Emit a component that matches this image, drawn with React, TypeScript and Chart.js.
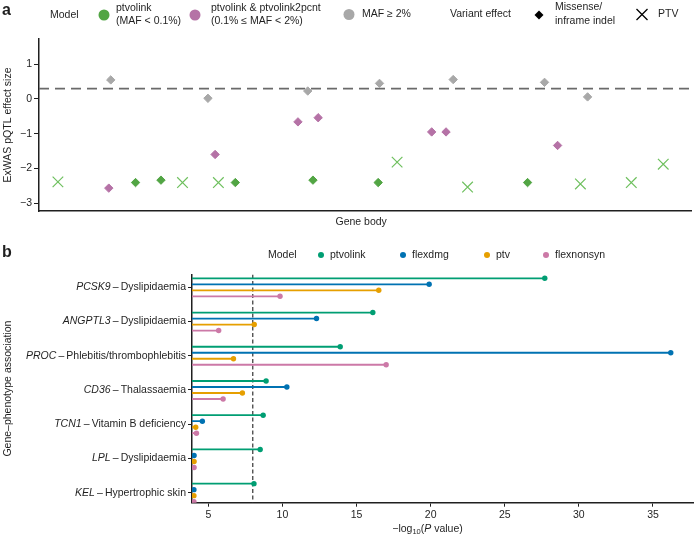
import React, { useEffect, useRef } from 'react';
import { Chart, registerables } from 'chart.js';

Chart.register(...registerables);

const FONT = "'Liberation Sans', Arial, Helvetica, sans-serif";
const INK = '#1f1f1f';

// ---------------- Panel a data ----------------
const ptvolinkPtvPos = [2.9, 22.0, 27.5, 54.9, 65.7, 83.0, 90.8, 95.7];
const ptvolinkPtvEffect = [-2.39, -2.41, -2.41, -1.82, -2.54, -2.45, -2.41, -1.88];
const ptvolinkMisPos = [14.8, 18.7, 30.1, 42.0, 52.0, 74.9];
const ptvolinkMisEffect = [-2.41, -2.34, -2.41, -2.34, -2.41, -2.41];
const lowFreqMisPos = [10.7, 27.0, 39.7, 42.8, 60.2, 62.4, 79.5];
const lowFreqMisEffect = [-2.57, -1.6, -0.66, -0.54, -0.95, -0.95, -1.34];
const commonMisPos = [11.0, 25.9, 41.2, 52.2, 63.5, 77.5, 84.1];
const commonMisEffect = [0.55, 0.02, 0.23, 0.45, 0.56, 0.48, 0.06];
const effectLine = 0.3;
const aYTicks = [-3, -2, -1, 0, 1];

const C_GREEN = '#52a544';
const C_GREEN_X = '#6fc05f';
const C_PURPLE = '#b572a6';
const C_GRAY = '#a8a8a8';

// ---------------- Panel b data ----------------
const genes = ['PCSK9', 'ANGPTL3', 'PROC', 'CD36', 'TCN1', 'LPL', 'KEL'];
const phenotypes = [
  'Dyslipidaemia',
  'Dyslipidaemia',
  'Phlebitis/thrombophlebitis',
  'Thalassaemia',
  'Vitamin B deficiency',
  'Dyslipidaemia',
  'Hypertrophic skin',
];
const models = ['ptvolink', 'flexdmg', 'ptv', 'flexnonsyn'];
const modelColors = ['#009E73', '#0072B2', '#E69F00', '#CC79A7'];
const ptvolinkLogP = [27.7, 16.1, 13.9, 8.9, 8.7, 8.5, 8.08];
const flexdmgLogP = [19.9, 12.3, 36.2, 10.3, 4.6, 4.04, 4.03];
const ptvLogP = [16.5, 8.1, 6.7, 7.3, 4.15, 4.04, 4.03];
const flexnonsynLogP = [9.84, 5.7, 17.0, 6.0, 4.2, 4.04, 4.03];
const modelValues = [ptvolinkLogP, flexdmgLogP, ptvLogP, flexnonsynLogP];
const pThreshold = 8;
const bXTicks = [5, 10, 15, 20, 25, 30, 35];
const bXMin = 3.9;
const bXMax = 37.7;
const dodge = 0.1753;

type Seg = { t: string; font: string; dy?: number };

function drawSegs(ctx: CanvasRenderingContext2D, segs: Seg[], x: number, y: number, align: 'left' | 'right' | 'center') {
  let total = 0;
  for (const s of segs) {
    ctx.font = s.font;
    total += ctx.measureText(s.t).width;
  }
  let cx = align === 'left' ? x : align === 'right' ? x - total : x - total / 2;
  ctx.textAlign = 'left';
  ctx.textBaseline = 'middle';
  for (const s of segs) {
    ctx.font = s.font;
    ctx.fillText(s.t, cx, y + (s.dy || 0));
    cx += ctx.measureText(s.t).width;
  }
}

function circle(ctx: CanvasRenderingContext2D, x: number, y: number, r: number, c: string) {
  ctx.beginPath();
  ctx.arc(x, y, r, 0, Math.PI * 2);
  ctx.fillStyle = c;
  ctx.fill();
}

function diamond(ctx: CanvasRenderingContext2D, x: number, y: number, r: number, c: string) {
  ctx.beginPath();
  ctx.moveTo(x - r, y);
  ctx.lineTo(x, y - r);
  ctx.lineTo(x + r, y);
  ctx.lineTo(x, y + r);
  ctx.closePath();
  ctx.fillStyle = c;
  ctx.fill();
}

function cross(ctx: CanvasRenderingContext2D, x: number, y: number, h: number, c: string, lw: number) {
  ctx.beginPath();
  ctx.moveTo(x - h, y - h);
  ctx.lineTo(x + h, y + h);
  ctx.moveTo(x + h, y - h);
  ctx.lineTo(x - h, y + h);
  ctx.strokeStyle = c;
  ctx.lineWidth = lw;
  ctx.stroke();
}

const f = (size: number, style = '') => `${style} ${size}px ${FONT}`.trim();

const panelAText = {
  id: 'panelAText',
  afterDraw(chart: any) {
    const ctx: CanvasRenderingContext2D = chart.ctx;
    const area = chart.chartArea;
    ctx.save();
    ctx.fillStyle = INK;
    ctx.textBaseline = 'middle';
    ctx.textAlign = 'left';
    ctx.font = f(16, 'bold');
    ctx.fillText('a', 2, 11);
    ctx.fillStyle = INK;
    ctx.font = f(10.5);
    ctx.fillText('Model', 50, 15);
    circle(ctx, 104, 15, 5.5, C_GREEN);
    ctx.fillStyle = INK;
    ctx.font = f(10.5);
    ctx.fillText('ptvolink', 116, 8);
    ctx.fillText('(MAF < 0.1%)', 116, 21);
    circle(ctx, 195, 15, 5.5, C_PURPLE);
    ctx.fillStyle = INK;
    ctx.fillText('ptvolink & ptvolink2pcnt', 211, 8);
    ctx.fillText('(0.1% \u2264 MAF < 2%)', 211, 21);
    circle(ctx, 349, 14.5, 5.5, C_GRAY);
    ctx.fillStyle = INK;
    ctx.fillText('MAF \u2265 2%', 362, 14.5);
    ctx.fillText('Variant effect', 450, 14.5);
    diamond(ctx, 539, 15, 4.5, '#000');
    ctx.fillStyle = INK;
    ctx.fillText('Missense/', 555, 7.5);
    ctx.fillText('inframe indel', 555, 21.5);
    cross(ctx, 642, 14.5, 5.5, '#000', 1.3);
    ctx.fillStyle = INK;
    ctx.fillText('PTV', 658, 14.5);

    // axis titles
    ctx.font = f(10.5);
    ctx.textAlign = 'center';
    ctx.fillText('Gene body', (area.left + area.right) / 2 - 4, 222);
    ctx.translate(8, (area.top + area.bottom) / 2);
    ctx.rotate(-Math.PI / 2);
    ctx.fillText('ExWAS pQTL effect size', 0, 0);
    ctx.restore();
  },
};

const panelBText = {
  id: 'panelBText',
  afterDraw(chart: any) {
    const ctx: CanvasRenderingContext2D = chart.ctx;
    const area = chart.chartArea;
    const ys = chart.scales.y;
    ctx.save();
    ctx.fillStyle = INK;
    ctx.textBaseline = 'middle';
    ctx.textAlign = 'left';
    ctx.font = f(16, 'bold');
    ctx.fillText('b', 2, 13);
    ctx.font = f(10.5);
    ctx.fillText('Model', 268, 15);
    const lx = [321, 403, 487, 546];
    models.forEach((m, i) => {
      circle(ctx, lx[i], 15, 3, modelColors[i]);
      ctx.fillStyle = INK;
      ctx.font = f(10.5);
      ctx.fillText(m, lx[i] + 9, 15);
    });

    // category labels
    genes.forEach((g, i) => {
      const y = ys.getPixelForValue(i);
      ctx.fillStyle = INK;
      drawSegs(
        ctx,
        [
          { t: g, font: f(10.5, 'italic') },
          { t: '\u2009\u2013\u2009', font: f(10.5) },
          { t: phenotypes[i], font: f(10.5) },
        ],
        area.left - 6,
        y,
        'right'
      );
    });

    // x title
    ctx.fillStyle = INK;
    drawSegs(
      ctx,
      [
        { t: '\u2212log', font: f(10.5) },
        { t: '10', font: f(7.5), dy: 3 },
        { t: '(', font: f(10.5) },
        { t: 'P', font: f(10.5, 'italic') },
        { t: ' value)', font: f(10.5) },
      ],
      (area.left + area.right) / 2 - 15,
      289,
      'center'
    );

    // y title
    ctx.font = f(10.5);
    ctx.textAlign = 'center';
    ctx.translate(8, (area.top + area.bottom) / 2);
    ctx.rotate(-Math.PI / 2);
    ctx.fillText('Gene\u2013phenotype association', 0, 0);
    ctx.restore();
  },
};

const toXY = (xs: number[], ys: number[]) => xs.map((x, i) => ({ x, y: ys[i] }));
const minus = (v: number) => String(v).replace('-', '\u2212');

function configA(): any {
  return {
    type: 'scatter',
    data: {
      datasets: [
        {
          label: 'ptvolink PTV',
          data: toXY(ptvolinkPtvPos, ptvolinkPtvEffect),
          pointStyle: 'crossRot',
          pointRadius: 7.5,
          borderColor: C_GREEN_X,
          backgroundColor: C_GREEN_X,
          pointBorderWidth: 1.2,
        },
        {
          label: 'ptvolink missense',
          data: toXY(ptvolinkMisPos, ptvolinkMisEffect),
          pointStyle: 'rectRot',
          pointRadius: 4.2,
          backgroundColor: C_GREEN,
          borderColor: C_GREEN,
          pointBorderWidth: 1,
        },
        {
          label: 'ptvolink2pcnt missense',
          data: toXY(lowFreqMisPos, lowFreqMisEffect),
          pointStyle: 'rectRot',
          pointRadius: 4.2,
          backgroundColor: C_PURPLE,
          borderColor: C_PURPLE,
          pointBorderWidth: 1,
        },
        {
          label: 'common missense',
          data: toXY(commonMisPos, commonMisEffect),
          pointStyle: 'rectRot',
          pointRadius: 4.2,
          backgroundColor: C_GRAY,
          borderColor: C_GRAY,
          pointBorderWidth: 1,
        },
        {
          label: 'threshold',
          data: [
            { x: 0, y: effectLine },
            { x: 100, y: effectLine },
          ],
          showLine: true,
          pointRadius: 0,
          borderColor: '#6a6a6a',
          borderWidth: 1.8,
          borderDash: [10, 6],
        },
      ],
    },
    options: {
      animation: false,
      responsive: true,
      maintainAspectRatio: false,
      layout: { padding: { top: 39, right: 7, left: 0, bottom: 0 } },
      plugins: { legend: { display: false }, tooltip: { enabled: false } },
      scales: {
        x: {
          type: 'linear',
          min: 0,
          max: 100,
          ticks: { display: false },
          grid: { display: false },
          border: { display: true, color: INK, width: 1.5 },
          afterFit: (s: any) => {
            s.height = 29;
          },
        },
        y: {
          type: 'linear',
          min: -3.23,
          max: 1.73,
          afterBuildTicks: (s: any) => {
            s.ticks = aYTicks.map((v) => ({ value: v }));
          },
          ticks: {
            color: INK,
            font: { family: FONT, size: 10.5 },
            padding: 2,
            callback: (v: any) => minus(v),
          },
          grid: { display: true, drawOnChartArea: false, drawTicks: true, tickLength: 5, color: INK, lineWidth: 1 },
          border: { display: true, color: INK, width: 1.5 },
          afterFit: (s: any) => {
            s.width = 39;
          },
        },
      },
    },
    plugins: [panelAText],
  };
}

function configB(): any {
  const datasets: any[] = [];
  models.forEach((m, s) => {
    genes.forEach((g, gi) => {
      const y = gi + (s - 1.5) * dodge;
      datasets.push({
        label: `${g} ${m}`,
        data: [
          { x: bXMin, y },
          { x: modelValues[s][gi], y },
        ],
        showLine: true,
        borderColor: modelColors[s],
        backgroundColor: modelColors[s],
        borderWidth: 1.8,
        pointRadius: [0, 2.7],
        pointBorderWidth: 0,
      });
    });
  });
  datasets.push({
    label: 'threshold',
    data: [
      { x: pThreshold, y: -0.374 },
      { x: pThreshold, y: 6.293 },
    ],
    showLine: true,
    pointRadius: 0,
    borderColor: '#333',
    borderWidth: 1.2,
    borderDash: [4, 2.5],
  });
  return {
    type: 'scatter',
    data: { datasets },
    options: {
      animation: false,
      responsive: true,
      maintainAspectRatio: false,
      layout: { padding: { top: 34.5, right: 7, left: 0, bottom: 0 } },
      plugins: { legend: { display: false }, tooltip: { enabled: false } },
      scales: {
        x: {
          type: 'linear',
          min: bXMin,
          max: bXMax,
          afterBuildTicks: (s: any) => {
            s.ticks = bXTicks.map((v) => ({ value: v }));
          },
          ticks: { color: INK, font: { family: FONT, size: 10.5 }, padding: 2, maxRotation: 0 },
          grid: { display: true, drawOnChartArea: false, drawTicks: true, tickLength: 4, color: INK, lineWidth: 1 },
          border: { display: true, color: INK, width: 1.5 },
          afterFit: (s: any) => {
            s.height = 37.3;
          },
        },
        y: {
          type: 'linear',
          reverse: true,
          min: -0.374,
          max: 6.293,
          afterBuildTicks: (s: any) => {
            s.ticks = genes.map((_, i) => ({ value: i }));
          },
          ticks: { display: false },
          grid: { display: true, drawOnChartArea: false, drawTicks: true, tickLength: 4, color: INK, lineWidth: 1 },
          border: { display: true, color: INK, width: 1.5 },
          afterFit: (s: any) => {
            s.width = 192;
          },
        },
      },
    },
    plugins: [panelBText],
  };
}

export default function App() {
  const refA = useRef<HTMLCanvasElement>(null);
  const refB = useRef<HTMLCanvasElement>(null);
  useEffect(() => {
    Chart.defaults.font.family = FONT;
    const a = new Chart(refA.current as HTMLCanvasElement, configA());
    const b = new Chart(refB.current as HTMLCanvasElement, configB());
    return () => {
      a.destroy();
      b.destroy();
    };
  }, []);
  return (
    <div style={{ position: 'fixed', left: 0, top: 0, width: 700, height: 540, background: '#fff', fontFamily: FONT }}>
      <div style={{ position: 'absolute', left: 0, top: 0, width: 700, height: 240 }}>
        <canvas ref={refA} />
      </div>
      <div style={{ position: 'absolute', left: 0, top: 240, width: 700, height: 300 }}>
        <canvas ref={refB} />
      </div>
    </div>
  );
}
